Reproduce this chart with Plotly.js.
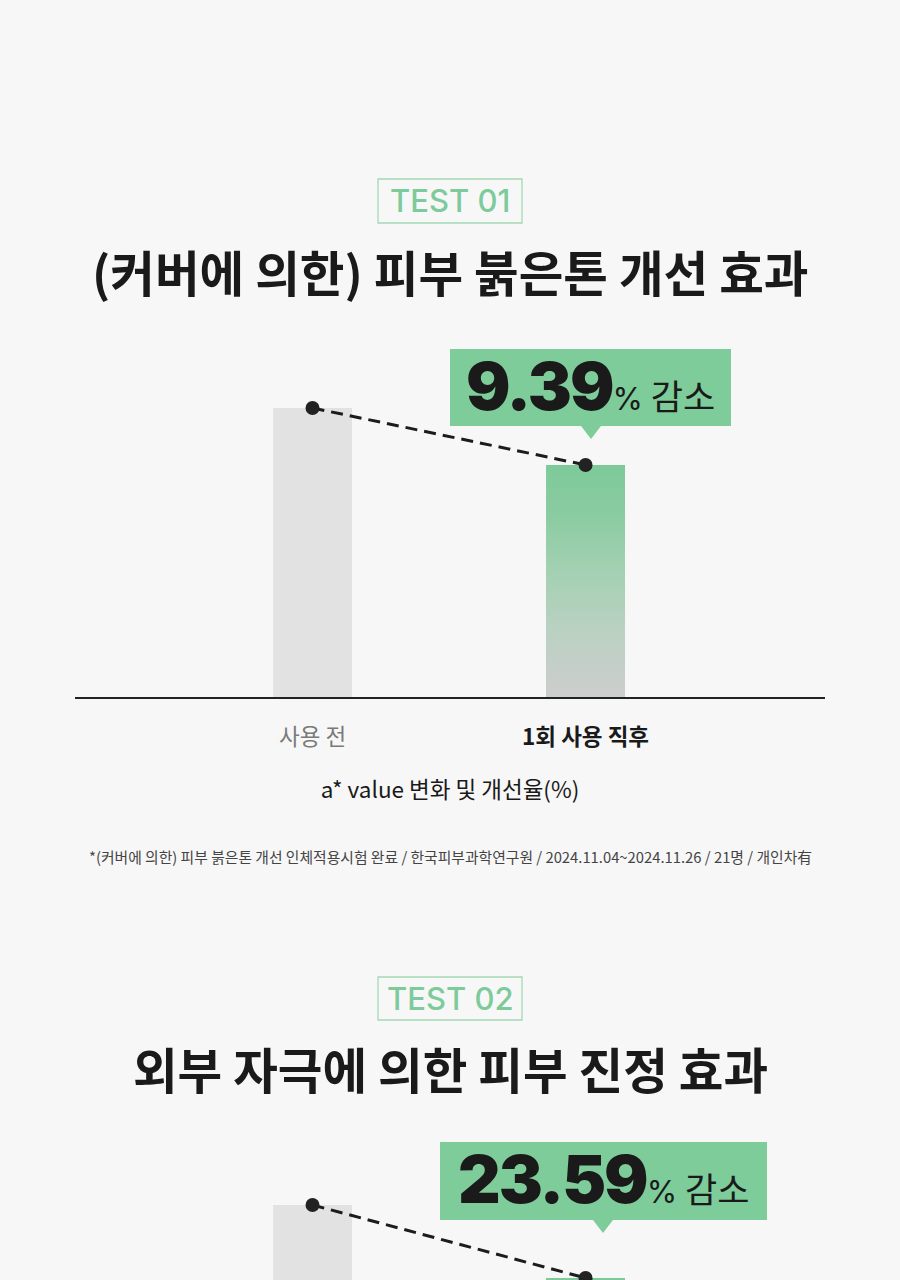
<!DOCTYPE html>
<html>
<head>
<meta charset="utf-8">
<script src="https://cdn.plot.ly/plotly-3.0.1.min.js"></script>
<style>
  html, body { margin: 0; padding: 0; background: #f7f7f7; }
  #chart { width: 900px; height: 1280px; }
</style>
</head>
<body>
<div id="chart"></div>
<script>
// ---- data ----
const categories = ['사용 전', '1회 사용 직후'];
const categoryIndex = [0, 1];
const test1Values = [10.00, 9.06];   // a* value, 9.39% decrease
const test2Values = [10.00, 7.64];   // 23.59% decrease
const test1Rate = '9.39';
const test2Rate = '23.59';
const test1Label = 'TEST 01';
const test2Label = 'TEST 02';
const test1Title = '(커버에 의한) 피부 붉은톤 개선 효과';
const test2Title = '외부 자극에 의한 피부 진정 효과';
const test1AxisTitle = 'a* value 변화 및 개선율(%)';
const test1Note = '*(커버에 의한) 피부 붉은톤 개선 인체적용시험 완료 / 한국피부과학연구원 / 2024.11.04~2024.11.26 / 21명 / 개인차有';

// ---- layout helpers ----
const W = 900, H = 1280;
const px = v => v / W;
const py = v => 1 - v / H;
const KR = '"Noto Sans CJK KR", "Noto Sans", sans-serif';
const BAR_W = 0.289;
const y1Range = [5.234, 11.121];
const y2Range = [7.575, 12.425];
const xRange = [-0.870, 1.877];
const greenScale = [[0, '#cdcdcd'], [0.3, '#b9d1c1'], [0.55, '#a3d0b2'], [0.8, '#89cba0'], [1, '#7dca99']];

function gradientBar(xa, ya, idx, value, base) {
  const x0 = categoryIndex[idx] - BAR_W / 2, x1 = categoryIndex[idx] + BAR_W / 2;
  return {
    type: 'scatter', xaxis: xa, yaxis: ya, mode: 'none', fill: 'toself',
    x: [x0, x1, x1, x0, x0], y: [base, base, value, value, base],
    fillcolor: '#a6d2b5',
    fillgradient: { type: 'vertical', start: base, stop: value, colorscale: greenScale },
    hoverinfo: 'skip', showlegend: false
  };
}

const traces = [
  { type: 'bar', xaxis: 'x', yaxis: 'y', x: categoryIndex, y: test1Values, width: BAR_W,
    marker: { color: ['#e2e2e2', '#a6d2b5'] }, hoverinfo: 'skip', showlegend: false },
  gradientBar('x', 'y', 1, test1Values[1], y1Range[0]),
  { type: 'scatter', xaxis: 'x', yaxis: 'y', x: categoryIndex, y: test1Values, mode: 'lines+markers',
    line: { color: '#1c1c1c', width: 3, dash: '12px,7px' }, marker: { size: 14, color: '#222' },
    cliponaxis: false, hoverinfo: 'skip', showlegend: false },

  { type: 'bar', xaxis: 'x2', yaxis: 'y2', x: categoryIndex, y: test2Values, width: BAR_W,
    marker: { color: ['#e2e2e2', '#7dca99'] }, hoverinfo: 'skip', showlegend: false },
  gradientBar('x2', 'y2', 1, test2Values[1], 0),
  { type: 'scatter', xaxis: 'x2', yaxis: 'y2', x: categoryIndex, y: test2Values, mode: 'lines+markers',
    line: { color: '#1c1c1c', width: 3, dash: '12px,7px' }, marker: { size: 14, color: '#222' },
    cliponaxis: false, hoverinfo: 'skip', showlegend: false }
];

function badgeShapes(left, right, top, bottom, tipX) {
  return [
    { type: 'rect', xref: 'paper', yref: 'paper', x0: px(left), x1: px(right), y0: py(bottom), y1: py(top),
      fillcolor: '#7dcc9a', line: { width: 0 }, layer: 'above' },
    { type: 'path', xref: 'paper', yref: 'paper', layer: 'above',
      path: `M ${px(tipX - 10)} ${py(bottom)} L ${px(tipX + 10)} ${py(bottom)} L ${px(tipX)} ${py(bottom + 13)} Z`,
      fillcolor: '#7dcc9a', line: { width: 0 } }
  ];
}
function testBox(top, bottom) {
  return { type: 'rect', xref: 'paper', yref: 'paper', x0: px(378), x1: px(522), y0: py(bottom), y1: py(top),
    fillcolor: 'rgba(0,0,0,0)', line: { color: '#a3d9b5', width: 1.3 } };
}

const shapes = [
  testBox(179, 223), testBox(977, 1020),
  ...badgeShapes(450, 731, 349, 426, 591),
  ...badgeShapes(440, 767, 1142, 1220, 603)
];

function textAt(text, x, y, font) {
  return { xref: 'paper', yref: 'paper', x: px(x), y: py(y), xanchor: 'center', yanchor: 'middle',
    showarrow: false, text, font };
}
function badgeText(rate, x, y) {
  return textAt(
    `<span style="font-family:Inter;font-weight:900;font-size:66px;letter-spacing:-2px">${rate}</span>` +
    `<span style="font-family:Inter;font-size:31px;font-weight:400">%</span>` +
    `<span style="font-size:35px;font-weight:400"> 감소</span>`,
    x, y, { family: KR, color: '#1a1a1a', size: 34 });
}

const annotations = [
  textAt(test1Label, 450, 201, { family: 'Inter, sans-serif', size: 31, color: '#7dcb9b', weight: 500 }),
  textAt(test1Title, 450, 271, { family: KR, size: 48.5, color: '#1a1a1a', weight: 700 }),
  badgeText(test1Rate, 590, 386),
  textAt(test1Note, 450, 856, { family: KR, size: 14.8, color: '#444' }),

  textAt(test2Label, 450, 998, { family: 'Inter, sans-serif', size: 31, color: '#7dcb9b', weight: 500 }),
  textAt(test2Title, 450, 1068, { family: KR, size: 48.5, color: '#1a1a1a', weight: 700 }),
  badgeText(test2Rate, 603, 1179)
];

const layout = {
  width: W, height: H,
  margin: { l: 0, r: 0, t: 0, b: 0 },
  paper_bgcolor: '#f7f7f7', plot_bgcolor: '#f7f7f7',
  showlegend: false, barmode: 'overlay',
  xaxis: {
    domain: [px(75), px(825)], range: xRange, anchor: 'y',
    showgrid: false, zeroline: false, showline: true, linecolor: '#222', linewidth: 2,
    tickvals: categoryIndex,
    ticktext: [`<span style="color:#7a7a7a">${categories[0]}</span>`, `<b>${categories[1]}</b>`],
    ticks: '', ticklabelstandoff: 19,
    tickfont: { family: KR, size: 22.5, color: '#1a1a1a' },
    title: { text: test1AxisTitle, standoff: 32, font: { family: KR, size: 22.5, color: '#1a1a1a' } }
  },
  yaxis: { domain: [py(697), py(340)], range: y1Range, anchor: 'x', visible: false },
  xaxis2: {
    domain: [px(75), px(825)], range: xRange, anchor: 'y2',
    showgrid: false, zeroline: false, showline: false, showticklabels: false, ticks: ''
  },
  yaxis2: { domain: [0, py(1130)], range: y2Range, anchor: 'x2', visible: false },
  shapes, annotations
};

Plotly.newPlot('chart', traces, layout, { staticPlot: true, displayModeBar: false });
</script>
</body>
</html>
